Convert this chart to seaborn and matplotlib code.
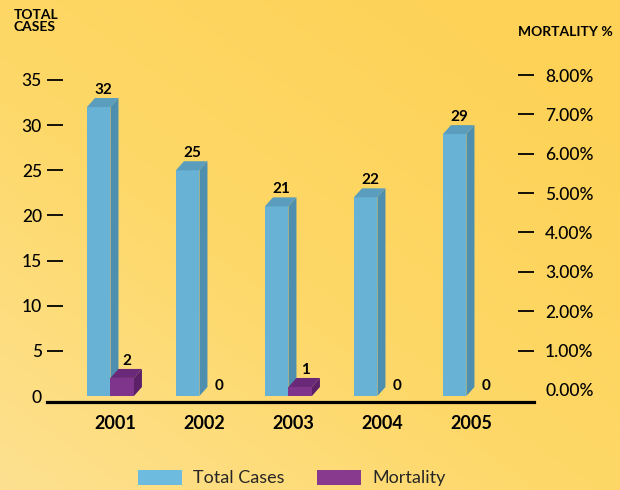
import numpy as np
import pandas as pd
import matplotlib
matplotlib.use("Agg")
import matplotlib.pyplot as plt
import seaborn as sns
from matplotlib import transforms
from matplotlib.patches import Polygon, Patch
from matplotlib.colors import LinearSegmentedColormap

# ---------------- data ----------------
years = ["2001", "2002", "2003", "2004", "2005"]
total_cases = [32, 25, 21, 22, 29]
mortality = [2, 0, 1, 0, 0]
series_names = ["Total Cases", "Mortality"]
left_ticks = [0, 5, 10, 15, 20, 25, 30, 35]
right_ticks = [0.00, 0.01, 0.02, 0.03, 0.04, 0.05, 0.06, 0.07, 0.08]

df = pd.DataFrame({
    "Year": years * 2,
    "Series": [series_names[0]] * len(years) + [series_names[1]] * len(years),
    "Value": total_cases + mortality,
})

# ---------------- style ----------------
sns.set_theme(style="white")
plt.rcParams['font.family'] = ['Lato', 'DejaVu Sans']

front = {"Total Cases": "#67B2D5", "Mortality": "#7F358C"}
top_c = {"Total Cases": "#5A9DBD", "Mortality": "#6A2878"}
side_c = {"Total Cases": "#4E8EAE", "Mortality": "#5C2069"}
legend_c = {"Total Cases": "#6DBBDF", "Mortality": "#873A8E"}

W, H = 620, 490
fig = plt.figure(figsize=(W / 100, H / 100), dpi=100)

# background gradient
bg = fig.add_axes([0, 0, 1, 1], zorder=-10)
yy, xx = np.mgrid[0:1:300j, 0:1:300j]
t = np.clip(0.55 * xx + 0.6 * yy, 0, 1)
cmap = LinearSegmentedColormap.from_list("bg", ["#FEE190", "#FDD868", "#FDD257"])
bg.imshow(t, cmap=cmap, origin="lower", extent=[0, 1, 0, 1], aspect="auto")
bg.set_axis_off()

# main axes (pixel geometry)
ax_l, ax_r, ax_top, ax_bot = 47, 534, 70, 402
ax = fig.add_axes([ax_l / W, (H - ax_bot) / H, (ax_r - ax_l) / W, (ax_bot - ax_top) / H])
ax.set_facecolor("none")

sns.barplot(data=df, x="Year", y="Value", hue="Series", hue_order=series_names,
            palette=[front[s] for s in series_names], width=0.528, dodge=True,
            saturation=1, legend=False, ax=ax, linewidth=0, zorder=3)

xlim = (-0.713, 4.759)
ylim = (-0.664, 36.10)
ax.set_xlim(*xlim)
ax.set_ylim(*ylim)

px_x = (ax_r - ax_l) / (xlim[1] - xlim[0])
px_y = (ax_bot - ax_top) / (ylim[1] - ylim[0])
dx = 8 / px_x
dy = 9 / px_y

values = {"Total Cases": total_cases, "Mortality": mortality}
for si, (cont, s) in enumerate(zip(ax.containers, series_names)):
    for bar, v in zip(cont, values[s]):
        x0 = bar.get_x()
        x1 = x0 + bar.get_width()
        h = bar.get_height()
        if v > 0:
            top = Polygon([(x0, h), (x1, h), (x1 + dx, h + dy), (x0 + dx, h + dy)],
                          closed=True, facecolor=top_c[s], edgecolor="none", zorder=3 + si)
            side = Polygon([(x1, 0), (x1 + dx, dy), (x1 + dx, h + dy), (x1, h)],
                           closed=True, facecolor=side_c[s], edgecolor="none", zorder=3 + si)
            ax.add_patch(top)
            ax.add_patch(side)
            bar.set_zorder(3 + si)
            ax.annotate(str(v), xy=(x0 + bar.get_width() / 2, h + dy), xytext=(3.6, 0.8),
                        textcoords="offset points", ha="center", va="bottom",
                        fontsize=11, fontweight="bold", color="black", zorder=10)
        else:
            ax.annotate(str(v), xy=(x0 + bar.get_width() / 2, 0), xytext=(6.0, 2.2),
                        textcoords="offset points", ha="center", va="bottom",
                        fontsize=11, fontweight="bold", color="black", zorder=10)

# spines
for sp in ["left", "right", "top"]:
    ax.spines[sp].set_visible(False)
ax.spines["bottom"].set_color("black")
ax.spines["bottom"].set_linewidth(2.3)

ax.set_xlabel("")
ax.set_ylabel("")
ax.set_yticks(left_ticks)
ax.set_yticklabels([str(v) for v in left_ticks])
ax.tick_params(axis="x", length=0, pad=9, labelsize=13, labelcolor="black")
for lab in ax.get_xticklabels():
    lab.set_fontweight("bold")
    lab.set_transform(lab.get_transform() + transforms.ScaledTranslation(5 / 100, 0, fig.dpi_scale_trans))
ax.grid(False)

# right axis
ax2 = ax.twinx()
ax2.set_ylim(-0.00305, 0.08127)
ax2.set_yticks(right_ticks)
ax2.set_yticklabels([f"{v * 100:.2f}%" for v in right_ticks])
for sp in ax2.spines.values():
    sp.set_visible(False)
ax2.grid(False)
ax2.set_ylabel("")

ax.tick_params(axis="y", direction="in", length=11.5, width=1.3, color="black",
               pad=3.6, labelsize=12.5, labelcolor="black", left=True, right=False)
ax2.tick_params(axis="y", direction="in", length=11.5, width=1.3, color="black",
                pad=8, labelsize=12.5, labelcolor="black", right=True, left=False)
for lab in ax.get_yticklabels() + ax2.get_yticklabels():
    lab.set_fontweight("medium")

# axis titles
fig.text(14 / W, 1 - 9 / H, "TOTAL\nCASES", ha="left", va="top", fontsize=10,
         fontweight="bold", color="black", linespacing=1.0)
fig.text(518 / W, 1 - 32 / H, "MORTALITY %", ha="left", va="center", fontsize=10,
         fontweight="bold", color="black")

# legend
handles = [Patch(facecolor=legend_c[s], edgecolor="none") for s in series_names]
fig.legend(handles, series_names, loc="center", bbox_to_anchor=(292 / W, 1 - 478 / H),
           ncol=2, frameon=False, fontsize=13, handlelength=2.4, handleheight=0.95,
           handletextpad=0.65, columnspacing=1.8)

# hide the zero tick marks (no dash next to 0 / 0.00%)
fig.canvas.draw()
ax.yaxis.get_major_ticks()[0].tick1line.set_visible(False)
ax2.yaxis.get_major_ticks()[0].tick2line.set_visible(False)

fig.savefig("out.png", dpi=100)
